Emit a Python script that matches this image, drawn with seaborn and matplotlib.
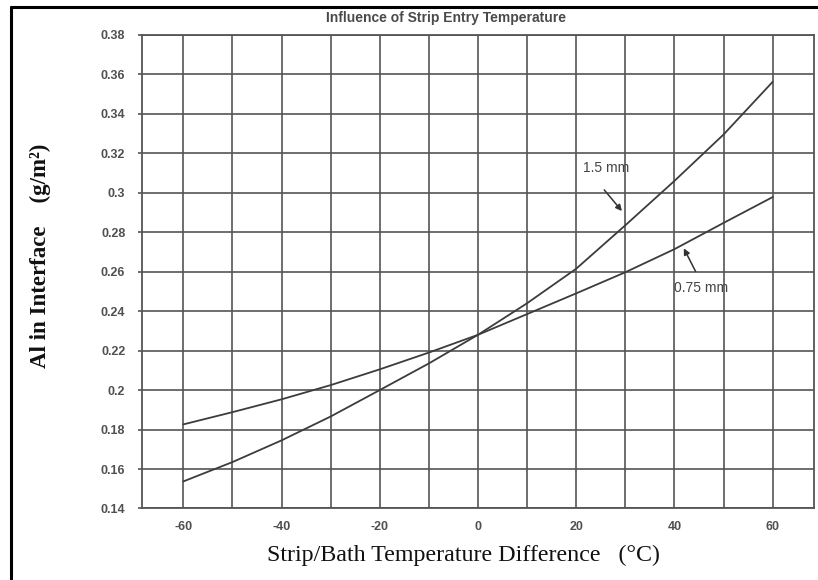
import matplotlib
matplotlib.use("Agg")
import matplotlib.pyplot as plt
import matplotlib.lines as mlines
import numpy as np
import pandas as pd
import seaborn as sns

# ---- data ----
temp_diff = [-60, -50, -40, -30, -20, -10, 0, 10, 20, 30, 40, 50, 60]
al_15mm = [0.1537, 0.1635, 0.1745, 0.1866, 0.200, 0.2135, 0.228, 0.244, 0.2615, 0.2835, 0.306, 0.3295, 0.3562]
al_075mm = [0.1826, 0.1888, 0.1953, 0.2025, 0.2105, 0.219, 0.228, 0.2385, 0.249, 0.2597, 0.2714, 0.2847, 0.2978]
series_names = ["1.5 mm", "0.75 mm"]
x_ticks = [-60, -40, -20, 0, 20, 40, 60]
y_ticks = [0.14, 0.16, 0.18, 0.20, 0.22, 0.24, 0.26, 0.28, 0.30, 0.32, 0.34, 0.36, 0.38]
y_tick_labels = ["0.14", "0.16", "0.18", "0.2", "0.22", "0.24", "0.26", "0.28", "0.3", "0.32", "0.34", "0.36", "0.38"]
title = "Influence of Strip Entry Temperature"
x_label = "Strip/Bath Temperature Difference   (°C)"
y_label = "Al in Interface    (g/m²)"

df = pd.DataFrame({
    "temp": temp_diff * 2,
    "al": al_15mm + al_075mm,
    "thickness": [series_names[0]] * len(temp_diff) + [series_names[1]] * len(temp_diff),
})

sns.set_style("white")
plt.rcParams["font.family"] = ["Liberation Sans", "DejaVu Sans"]
plt.rcParams["axes.unicode_minus"] = False

fig = plt.figure(figsize=(8.18, 5.80), dpi=100)
ax = fig.add_axes([0.1736, 0.1233, 0.9951 - 0.1736, 0.94 - 0.1233])

grid_col = "#555555"
line_col = "#3c3c3c"

sns.lineplot(data=df, x="temp", y="al", hue="thickness",
             palette=[line_col, line_col], linewidth=1.3, legend=False, ax=ax,
             zorder=3)

ax.set_xlim(-68.4, 68.4)
ax.set_ylim(0.14, 0.38)
ax.set_xticks(x_ticks)
ax.set_xticks([-50, -30, -10, 10, 30, 50], minor=True)
ax.set_yticks(y_ticks)
ax.set_yticklabels(y_tick_labels)
ax.grid(True, which="both", color=grid_col, linewidth=1.2)
ax.set_axisbelow(True)
for s in ax.spines.values():
    s.set_color(grid_col)
    s.set_linewidth(1.3)

ax.tick_params(axis="y", which="major", length=3, width=1.2, color=grid_col, pad=9,
               labelsize=9, labelcolor="#505050", left=True)
ax.tick_params(axis="x", which="both", length=0, pad=9, labelsize=9, labelcolor="#505050")
for lab in ax.get_xticklabels() + ax.get_yticklabels():
    lab.set_fontweight("bold")
ax.set_xlabel("")
ax.set_ylabel("")

# annotations
ax.text(21.4, 0.3126, series_names[0], fontsize=10, color="#444444", va="center", ha="left")
ax.annotate("", xy=(29.3, 0.2907), xytext=(25.7, 0.3014),
            arrowprops=dict(arrowstyle="-|>", color="#333333", lw=1.1,
                            mutation_scale=9, shrinkA=0, shrinkB=0))
ax.text(39.9, 0.2519, series_names[1], fontsize=10, color="#444444", va="center", ha="left")
ax.annotate("", xy=(41.9, 0.2718), xytext=(44.3, 0.2601),
            arrowprops=dict(arrowstyle="-|>", color="#333333", lw=1.1,
                            mutation_scale=9, shrinkA=0, shrinkB=0))

# title and axis labels
fig.text(446 / 818, 1 - 18 / 580, title, ha="center", va="center",
         fontsize=10, fontweight="bold", color="#4a4a4a")
fig.text(463 / 818, 1 - 555 / 580, x_label, ha="center", va="center",
         fontsize=17.3, family=["Liberation Serif", "DejaVu Serif"], color="#111111")
fig.text(40 / 818, 1 - 256 / 580, y_label, ha="center", va="center", rotation=90,
         fontsize=16.5, fontweight="bold", family=["Liberation Serif", "DejaVu Serif"],
         color="#111111")

# scanned page frame (left and top edges)
fig.add_artist(mlines.Line2D([11 / 818, 11 / 818], [0, 1 - 7 / 580],
                             transform=fig.transFigure, color="black", lw=2.2))
fig.add_artist(mlines.Line2D([11 / 818, 1], [1 - 7 / 580, 1 - 7 / 580],
                             transform=fig.transFigure, color="black", lw=2.2))

fig.savefig("out.png", dpi=100)
